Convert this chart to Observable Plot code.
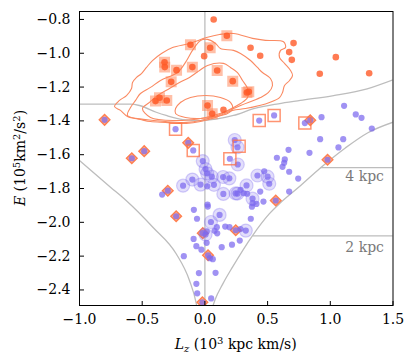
<!DOCTYPE html>
<html><head><meta charset="utf-8">
<script src="https://cdn.jsdelivr.net/npm/d3@7"></script>
<script src="https://cdn.jsdelivr.net/npm/@observablehq/plot@0.6"></script>
<style>body{margin:0;background:#fff}svg{display:block}</style>
</head><body><div id="chart"></div>
<script>
// ---- axes ----
const xTicks = [-1.0, -0.5, 0.0, 0.5, 1.0, 1.5];
const yTicks = [-2.4, -2.2, -2.0, -1.8, -1.6, -1.4, -1.2, -1.0, -0.8];
const xDomain = [-1.0, 1.5];
const yDomain = [-2.492, -0.753];

// ---- orange (plain) dots ----
const orangeLz = [0.07, -0.006, 0.148, 0.364, 0.441, 0.707, 0.672, 0.693, 1.044, 0.916, 1.31];
const orangeE  = [-0.80, -1.017, -1.334, -0.967, -1.015, -0.94, -0.993, -1.039, -1.023, -1.121, -1.118];

// ---- orange dots with square background ----
const orangeSqLz = [0.175, -0.115, 0.042, -0.322, -0.32, -0.226, -0.10, 0.098, 0.222, -0.269, -0.362, -0.394, -0.304, 0.021, 0.058, 0.335, 0.35];
const orangeSqE  = [-0.896, -0.95, -0.967, -1.053, -1.082, -1.10, -1.082, -1.102, -1.165, -1.169, -1.263, -1.283, -1.279, -1.309, -1.358, -1.232, -1.228];

// ---- blue points ----
const blueLz = [0.433, 0.552, 0.797, 0.84, 0.93, 1.11, 1.203, 1.249, 1.331, 0.919, 1.103, 1.065, 0.834, 0.667, 0.574, 0.637, 0.632, 0.619, 0.978, 0.672,
  0.744, 0.419, 0.50, 0.513, 0.332, 0.26, 0.31, 0.38, 0.441, 0.467, 0.411, 0.672, 0.565, 0.375, 0.473,
  -0.80, -0.234, -0.133, -0.093, -0.484, -0.583, -0.296, -0.341, -0.229,
  -0.017, 0.005, 0.018, 0.055, 0.145, 0.195, -0.10, -0.174, -0.035, 0.019, 0.072, 0.147, 0.245, 0.238, 0.26, 0.199, 0.262,
  0.021, -0.088, -0.063, 0.023, 0.117, 0.048, 0.095, 0.077, 0.162, 0.196, 0.098, -0.017, 0.005, 0.015, -0.09, -0.068, -0.028, 0.014, 0.134,
  0.216, 0.278, -0.168, 0.025, 0.04, 0.063, -0.048, 0.085, -0.068, -0.061, 0.05, -0.02, 0.246, 0.326, 0.284, 0.366, 0.284, 0.337, 0.38];
const blueE = [-1.398, -1.368, -1.413, -1.396, -1.378, -1.311, -1.362, -1.382, -1.445, -1.508, -1.508, -1.557, -1.589, -1.571, -1.618, -1.628, -1.648, -1.672, -1.630, -1.701,
  -1.741, -1.723, -1.73, -1.772, -1.782, -1.83, -1.828, -1.86, -1.818, -1.877, -1.891, -1.818, -1.871, -1.908, -1.698,
  -1.394, -1.449, -1.530, -1.575, -1.579, -1.621, -1.813, -1.836, -1.964,
  -1.638, -1.685, -1.71, -1.73, -1.732, -1.74, -1.747, -1.783, -1.777, -1.787, -1.778, -1.832, -1.829, -1.513, -1.556, -1.624, -1.658,
  -1.895, -1.926, -1.979, -1.907, -1.956, -1.998, -2.029, -2.05, -2.025, -2.029, -2.065, -2.064, -2.072, -2.055, -2.098, -2.141, -2.162, -2.121, -2.147,
  -2.132, -2.108, -2.20, -2.195, -2.212, -2.218, -2.30, -2.299, -2.364, -2.42, -2.45, -2.473, -2.047, -2.049, -2.04, -1.979, -1.808, -1.831, -1.887];

// ---- blue points with halo ----
const haloLz = [0.419, 0.50, 0.513, 0.332, 0.26, 0.38, -0.017, 0.005, 0.018, 0.055, 0.145, 0.195, -0.10, -0.174, -0.035, 0.072, 0.147, 0.245, 0.238, 0.26, 0.262, 0.117, 0.048, 0.005, 0.326];
const haloE  = [-1.723, -1.73, -1.772, -1.782, -1.83, -1.86, -1.638, -1.685, -1.71, -1.73, -1.732, -1.74, -1.747, -1.783, -1.777, -1.778, -1.832, -1.829, -1.513, -1.556, -1.658, -1.956, -1.998, -2.072, -2.049];

// ---- open squares ----
const openSqLz = [-0.234, -0.093, 0.433, 0.552, 0.797, 0.273, 0.199];
const openSqE  = [-1.449, -1.575, -1.398, -1.368, -1.413, -1.55, -1.624];

// ---- diamonds ----
const diamondLz = [-0.80, -0.133, -0.484, -0.583, -0.296, -0.229, 0.84, 0.978, 0.565, -0.017, 0.025, -0.02, 0.246];
const diamondE  = [-1.394, -1.530, -1.579, -1.621, -1.813, -1.964, -1.396, -1.630, -1.871, -2.064, -2.195, -2.473, -2.047];

// ---- contours ----
const c1Lz = [-0.123, 0.013, 0.116, 0.228, 0.38, 0.483, 0.627, 0.643, 0.603, 0.595, 0.635, 0.683, 0.699, 0.675, 0.635, 0.619, 0.595, 0.515, 0.435, 0.324, 0.220, 0.10, -0.035, -0.147, -0.315, -0.434, -0.514, -0.617, -0.673, -0.721, -0.681, -0.625, -0.585, -0.577, -0.545, -0.506, -0.466, -0.418, -0.346, -0.258];
const c1E  = [-0.942, -0.907, -0.889, -0.883, -0.912, -0.924, -0.932, -0.966, -0.983, -1.025, -1.060, -1.102, -1.131, -1.161, -1.191, -1.232, -1.262, -1.291, -1.309, -1.327, -1.338, -1.375, -1.404, -1.415, -1.409, -1.404, -1.392, -1.374, -1.338, -1.315, -1.279, -1.25, -1.208, -1.173, -1.143, -1.120, -1.084, -1.043, -1.001, -0.966];
const c2Lz = [-0.035, 0.021, 0.085, 0.124, 0.228, 0.284, 0.364, 0.419, 0.459, 0.523, 0.539, 0.507, 0.443, 0.284, 0.100, -0.035, -0.147, -0.315, -0.474, -0.617, -0.593, -0.553, -0.514, -0.434, -0.354, -0.219, -0.155, -0.099];
const c2E  = [-0.924, -0.918, -0.942, -0.972, -0.983, -1.001, -1.043, -1.084, -1.114, -1.149, -1.191, -1.232, -1.262, -1.309, -1.368, -1.398, -1.409, -1.404, -1.392, -1.368, -1.321, -1.279, -1.238, -1.202, -1.161, -1.114, -1.054, -0.983];
const c3Lz = [0.021, 0.148, 0.204, 0.26, 0.30, 0.34, 0.34, 0.284, 0.18, 0.069, -0.035, -0.234, -0.434, -0.498, -0.442, -0.378, -0.282, -0.203, -0.123, -0.043];
const c3E  = [-1.072, -1.060, -1.084, -1.114, -1.161, -1.208, -1.262, -1.297, -1.338, -1.368, -1.386, -1.398, -1.380, -1.327, -1.291, -1.25, -1.208, -1.173, -1.143, -1.102];
const c4Lz = [-0.234, -0.195, -0.115, 0.005, 0.124, 0.204, 0.22, 0.18, 0.085, -0.035, -0.155, -0.234];
const c4E  = [-1.327, -1.291, -1.262, -1.25, -1.262, -1.291, -1.327, -1.356, -1.374, -1.386, -1.38, -1.356];

// ---- grey reference curves ----
const upperLz = [-1.0, -0.593, -0.522, -0.388, -0.309, -0.176, -0.035, 0.228, 0.39, 0.585, 0.762, 1.026, 1.294, 1.5];
const upperE  = [-1.301, -1.301, -1.309, -1.349, -1.368, -1.392, -1.398, -1.368, -1.328, -1.299, -1.279, -1.25, -1.21, -1.157];
const rightLz = [0.062, 0.08, 0.143, 0.22, 0.38, 0.513, 0.6, 0.752, 0.923, 1.12, 1.3, 1.5];
const rightE  = [-2.50, -2.46, -2.364, -2.265, -2.078, -1.95, -1.886, -1.79, -1.677, -1.56, -1.47, -1.408];
const leftLz  = [-1.0, -0.753, -0.628, -0.415, -0.229, -0.123, -0.069, -0.064];
const leftE   = [-1.634, -1.792, -1.871, -2.029, -2.186, -2.344, -2.48, -2.50];
const radiusE = [-1.677, -2.08];
const radiusStartLz = [0.923, 0.385];
const radiusLabels = ["4 kpc", "2 kpc"];
const radiusLabelLz = [1.428, 1.428];
const radiusLabelE = [-1.732, -2.151];

const pts = (xs, ys) => xs.map((x, i) => ({Lz: x, E: ys[i]}));
const grey = "#bdbdbd";
const cCol = "#fa8a62";
const blue = "#7b68ee";

const tickUp = {draw(ctx) { ctx.moveTo(0, 0); ctx.lineTo(0, -4.5); }};
const tickRight = {draw(ctx) { ctx.moveTo(0, 0); ctx.lineTo(4.5, 0); }};

const contours = [[c1Lz, c1E], [c2Lz, c2E], [c3Lz, c3E], [c4Lz, c4E]];

const svg = Plot.plot({
  width: 416, height: 363,
  marginLeft: 79, marginRight: 23.5, marginTop: 11, marginBottom: 58,
  style: {fontFamily: "DejaVu Serif", fontSize: "14px", background: "white", color: "black"},
  x: {domain: xDomain, label: null},
  y: {domain: yDomain, label: null},
  marks: [
    Plot.ruleX([0], {stroke: grey, strokeWidth: 1.3}),
    Plot.line(pts(upperLz, upperE), {x: "Lz", y: "E", stroke: grey, strokeWidth: 1.3, curve: "monotone-x", clip: true}),
    Plot.line(pts(rightLz, rightE), {x: "Lz", y: "E", stroke: grey, strokeWidth: 1.3, curve: "monotone-x", clip: true}),
    Plot.line(pts(leftLz, leftE), {x: "Lz", y: "E", stroke: grey, strokeWidth: 1.3, curve: "monotone-x", clip: true}),
    Plot.ruleY(radiusE.map((e, i) => ({E: e, x1: radiusStartLz[i]})), {y: "E", x1: "x1", x2: xDomain[1], stroke: grey, strokeWidth: 1.3}),
    Plot.text(radiusLabels.map((t, i) => ({t, Lz: radiusLabelLz[i], E: radiusLabelE[i]})), {x: "Lz", y: "E", text: "t", textAnchor: "end", fill: "#7a7a7a", fontSize: 14}),
    ...contours.map(([xs, ys]) => Plot.line(pts(xs, ys), {x: "Lz", y: "E", stroke: cCol, strokeWidth: 1.1, curve: "catmull-rom-closed"})),
    Plot.dot(pts(orangeSqLz, orangeSqE), {x: "Lz", y: "E", symbol: "square", r: 6.2, fill: "#ff8050", fillOpacity: 0.5, clip: true}),
    Plot.dot(pts(orangeSqLz, orangeSqE), {x: "Lz", y: "E", r: 3.3, fill: "#ff5a28", fillOpacity: 0.85, clip: true}),
    Plot.dot(pts(orangeLz, orangeE), {x: "Lz", y: "E", r: 3.3, fill: "#ff5a28", fillOpacity: 0.8, clip: true}),
    Plot.dot(pts(diamondLz, diamondE), {x: "Lz", y: "E", symbol: "diamond2", r: 4.8, fill: "#ffb08c", stroke: "#ff7f4f", strokeWidth: 1.4, clip: true}),
    Plot.dot(pts(haloLz, haloE), {x: "Lz", y: "E", r: 6.5, fill: blue, fillOpacity: 0.22, stroke: blue, strokeOpacity: 0.3, strokeWidth: 1.2, clip: true}),
    Plot.dot(pts(blueLz, blueE), {x: "Lz", y: "E", r: 3.1, fill: blue, fillOpacity: 0.72, clip: true}),
    Plot.dot(pts(openSqLz, openSqE), {x: "Lz", y: "E", symbol: "square", r: 6.8, fill: "none", stroke: "#ff7043", strokeOpacity: 0.75, strokeWidth: 1.5, clip: true}),
    Plot.frame({stroke: "black", strokeWidth: 1}),
    Plot.axisX({ticks: xTicks, tickFormat: ".1f", tickSize: 0, tickPadding: 9, fontSize: 14, label: null}),
    Plot.axisY({ticks: yTicks, tickFormat: ".1f", tickSize: 0, tickPadding: 9, fontSize: 14, label: null}),
    Plot.dot(xTicks, {x: d => d, y: () => yDomain[0], symbol: tickUp, r: 2, stroke: "black", fill: "none", strokeWidth: 1}),
    Plot.dot(yTicks, {x: () => xDomain[0], y: d => d, symbol: tickRight, r: 2, stroke: "black", fill: "none", strokeWidth: 1})
  ]
});

const s = d3.select(svg);
const xl = s.append("text").attr("x", 235.75).attr("y", 349).attr("text-anchor", "middle")
  .attr("font-family", "DejaVu Serif").attr("font-size", 14).attr("fill", "black");
xl.append("tspan").attr("font-style", "italic").text("L");
xl.append("tspan").attr("font-style", "italic").attr("font-size", 10).attr("dy", 3).text("z");
xl.append("tspan").attr("dy", -3).text(" (10");
xl.append("tspan").attr("font-size", 10).attr("dy", -5).text("3");
xl.append("tspan").attr("dy", 5).text(" kpc km/s)");

const yl = s.append("text").attr("transform", "translate(25,158) rotate(-90)").attr("text-anchor", "middle")
  .attr("font-family", "DejaVu Serif").attr("font-size", 14).attr("fill", "black");
yl.append("tspan").attr("font-style", "italic").text("E");
yl.append("tspan").text(" (10");
yl.append("tspan").attr("font-size", 10).attr("dy", -5).text("5");
yl.append("tspan").attr("dy", 5).text("km");
yl.append("tspan").attr("font-size", 10).attr("dy", -5).text("2");
yl.append("tspan").attr("dy", 5).text("/s");
yl.append("tspan").attr("font-size", 10).attr("dy", -5).text("2");
yl.append("tspan").attr("dy", 5).text(")");

document.getElementById("chart").appendChild(svg);
</script>
</body></html>
